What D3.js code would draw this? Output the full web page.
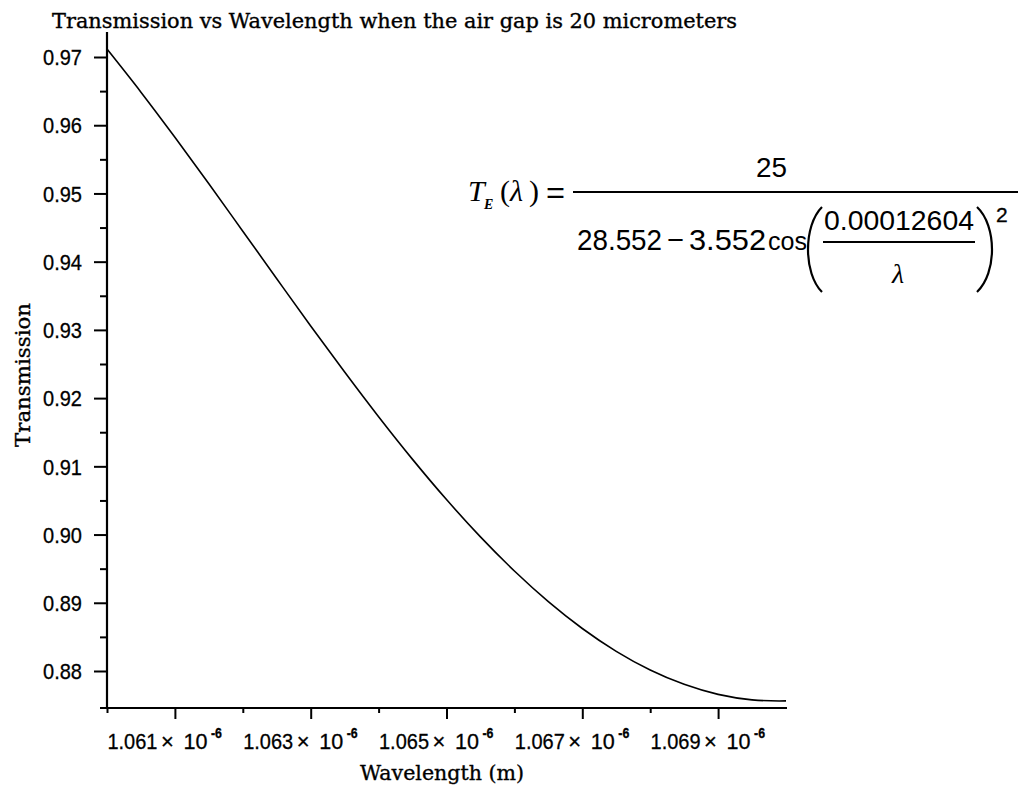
<!DOCTYPE html>
<html>
<head>
<meta charset="utf-8">
<script src="https://cdn.jsdelivr.net/npm/d3@7"></script>
<style>
  html, body { margin: 0; padding: 0; background: #ffffff; }
  svg { display: block; }
</style>
</head>
<body>
<svg id="chart" width="1018" height="787"></svg>
<script>
// Wavelength samples (m) and the transmission
const wavelength = [
  1.0600e-6, 1.0605e-6, 1.0610e-6, 1.0615e-6, 1.0620e-6, 1.0625e-6,
  1.0630e-6, 1.0635e-6, 1.0640e-6, 1.0645e-6, 1.0650e-6, 1.0655e-6,
  1.0660e-6, 1.0665e-6, 1.0670e-6, 1.0675e-6, 1.0680e-6, 1.0685e-6,
  1.0690e-6, 1.0695e-6, 1.0699e-6, 1.0700e-6
];
const transmission = [
  0.97116, 0.96485, 0.95824, 0.95142, 0.94447, 0.93750,
  0.93058, 0.92382, 0.91727, 0.91102, 0.90513, 0.89966,
  0.89466, 0.89017, 0.88623, 0.88288, 0.88014, 0.87804,
  0.87657, 0.87577, 0.87560, 0.87562
];

// Axis ticks
const xMajorTicks = [1.061e-6, 1.063e-6, 1.065e-6, 1.067e-6, 1.069e-6];
const xTickMantissas = ["1.061", "1.063", "1.065", "1.067", "1.069"];
const xTickExponent = "-6";
const xMinorTicks = [1.060e-6, 1.062e-6, 1.064e-6, 1.066e-6, 1.068e-6];
const yMajorTicks = [0.88, 0.89, 0.90, 0.91, 0.92, 0.93, 0.94, 0.95, 0.96, 0.97];
const yTickLabels = ["0.88", "0.89", "0.90", "0.91", "0.92", "0.93", "0.94", "0.95", "0.96", "0.97"];
const yMinorTicks = [0.885, 0.895, 0.905, 0.915, 0.925, 0.935, 0.945, 0.955, 0.965];

// Text
const chartTitle = "Transmission vs Wavelength when the air gap is 20 micrometers";
const xTitle = "Wavelength (m)";
const yTitle = "Transmission";

// Plot extents
const xDomain = [1.060e-6, 1.070e-6];
const yDomain = [0.874576, 0.973665];

const svg = d3.select("#chart");
const serif = "'DejaVu Serif', 'Liberation Serif', serif";
const sans = "'Liberation Sans', Arial, sans-serif";
const mathSerif = "'Liberation Serif', 'Times New Roman', serif";

const x = d3.scaleLinear().domain(xDomain).range([107, 786]);
const y = d3.scaleLinear().domain(yDomain).range([708, 32]);

// Slightly heavier text, like the screen font of the plot
function heavy(sel, w) {
  return sel.attr("stroke", "#000").attr("stroke-width", w).attr("paint-order", "stroke");
}
function narrow(sel, len) {
  return sel.attr("textLength", len).attr("lengthAdjust", "spacingAndGlyphs");
}

// Title
heavy(narrow(svg.append("text")
  .attr("x", 52).attr("y", 28)
  .attr("font-family", serif).attr("font-size", 20)
  .attr("fill", "#000")
  .text(chartTitle), 685), 0.35);

// Y axis
const yAxisG = svg.append("g").attr("transform", "translate(107,0)");
yAxisG.call(d3.axisLeft(y).tickValues(yMajorTicks).tickSize(13).tickPadding(12)
  .tickFormat((d, i) => yTickLabels[i]));
yAxisG.select(".domain").remove();
yAxisG.selectAll(".tick line").attr("stroke", "#000").attr("stroke-width", 2);
heavy(narrow(yAxisG.selectAll(".tick text")
  .attr("font-family", sans).attr("font-size", 22).attr("fill", "#000")
  .attr("dy", "0.35em"), 39), 0.3);

const yMinorG = svg.append("g").attr("transform", "translate(107,0)");
yMinorG.call(d3.axisLeft(y).tickValues(yMinorTicks).tickSize(7).tickFormat(""));
yMinorG.select(".domain").remove();
yMinorG.selectAll(".tick line").attr("stroke", "#000").attr("stroke-width", 2);

svg.append("line")
  .attr("x1", x(xDomain[0])).attr("x2", x(xDomain[0]))
  .attr("y1", y(yDomain[1])).attr("y2", y(yDomain[0]))
  .attr("stroke", "#000").attr("stroke-width", 2.2);

// X axis
const xAxisG = svg.append("g").attr("transform", `translate(0,${y(yDomain[0])})`);
xAxisG.call(d3.axisBottom(x).tickValues(xMajorTicks).tickSize(11).tickFormat(""));
xAxisG.select(".domain").remove();
xAxisG.selectAll(".tick line").attr("stroke", "#000").attr("stroke-width", 2);

const xMinorG = svg.append("g").attr("transform", `translate(0,${y(yDomain[0])})`);
xMinorG.call(d3.axisBottom(x).tickValues(xMinorTicks).tickSize(5).tickFormat(""));
xMinorG.select(".domain").remove();
xMinorG.selectAll(".tick line").attr("stroke", "#000").attr("stroke-width", 2);

svg.append("line")
  .attr("x1", x(xDomain[0]) - 7).attr("x2", x(xDomain[1]) + 1)
  .attr("y1", y(yDomain[0])).attr("y2", y(yDomain[0]))
  .attr("stroke", "#000").attr("stroke-width", 2.2);

// X tick labels in scientific notation
const xLabels = svg.append("g");
xMajorTicks.forEach((v, i) => {
  const xt = x(v);
  const t = heavy(xLabels.append("text")
    .attr("y", 749)
    .attr("font-family", sans).attr("font-size", 22).attr("fill", "#000"), 0.3);
  narrow(t.append("tspan").attr("x", xt - 67.5), 50).text(xTickMantissas[i]);
  t.append("tspan").attr("x", xt - 14).text("\u00d7");
  narrow(t.append("tspan").attr("x", xt + 8.5), 24).text("10");
  narrow(t.append("tspan").attr("x", xt + 36).attr("dy", -11).attr("font-size", 14)
    .attr("font-weight", "bold"), 11).text(xTickExponent);
});

// Axis titles
heavy(narrow(svg.append("text")
  .attr("x", 360).attr("y", 780)
  .attr("font-family", serif).attr("font-size", 20)
  .attr("fill", "#000")
  .text(xTitle), 164), 0.35);

heavy(narrow(svg.append("text")
  .attr("transform", "translate(30,447) rotate(-90)")
  .attr("font-family", serif).attr("font-size", 20)
  .attr("fill", "#000")
  .text(yTitle), 144), 0.35);

// Transmission curve
const line = d3.line()
  .x((d, i) => x(wavelength[i]))
  .y(d => y(d))
  .curve(d3.curveMonotoneX);

svg.append("path")
  .datum(transmission)
  .attr("d", line)
  .attr("fill", "none")
  .attr("stroke", "#000")
  .attr("stroke-width", 1.6);

// Formula annotation
const f = svg.append("g");
function put(xp, yp, str, size, family, style, len) {
  const t = f.append("text")
    .attr("x", xp).attr("y", yp)
    .attr("font-family", family).attr("font-size", size)
    .attr("font-style", style || "normal")
    .attr("fill", "#000")
    .text(str);
  if (len) narrow(t, len);
  return t;
}
function paren(xEnd, top, bottom, depth) {
  const p = d3.path();
  const h = bottom - top;
  const c = xEnd - depth * 4 / 3;
  p.moveTo(xEnd, top);
  p.bezierCurveTo(c, top + h * 0.22, c, bottom - h * 0.22, xEnd, bottom);
  f.append("path").attr("d", p.toString())
    .attr("fill", "none").attr("stroke", "#000").attr("stroke-width", 2.2);
}

const barY = 192;
put(468, 201, "T", 30, mathSerif, "italic");
put(484, 209, "E", 14, mathSerif, "italic").attr("font-weight", "bold");
put(500, 201, "(", 30, mathSerif);
put(510, 201, "\u03bb", 30, mathSerif, "italic");
put(529, 201, ")", 30, mathSerif);
put(546, 203, "=", 30, sans, null, 19);

f.append("line").attr("x1", 573).attr("x2", 1018).attr("y1", barY).attr("y2", barY)
  .attr("stroke", "#000").attr("stroke-width", 1.8);

put(756, 177, "25", 28, sans, null, 31);

put(577, 250, "28.552", 30, sans, null, 85);
put(667, 250, "\u2212", 30, sans, null, 17);
put(689, 250, "3.552", 30, sans, null, 77);
put(768, 250, "cos", 25, sans, null, 39);

paren(822, 207, 292, 14);
put(824, 230, "0.00012604", 28, sans, null, 150);
f.append("line").attr("x1", 823).attr("x2", 975).attr("y1", 242).attr("y2", 242)
  .attr("stroke", "#000").attr("stroke-width", 1.8);
put(898, 283, "\u03bb", 28, mathSerif, "italic").attr("text-anchor", "middle");
paren(977, 207, 292, -15);
heavy(put(996, 222, "2", 21, sans), 0.3);
</script>
</body>
</html>
